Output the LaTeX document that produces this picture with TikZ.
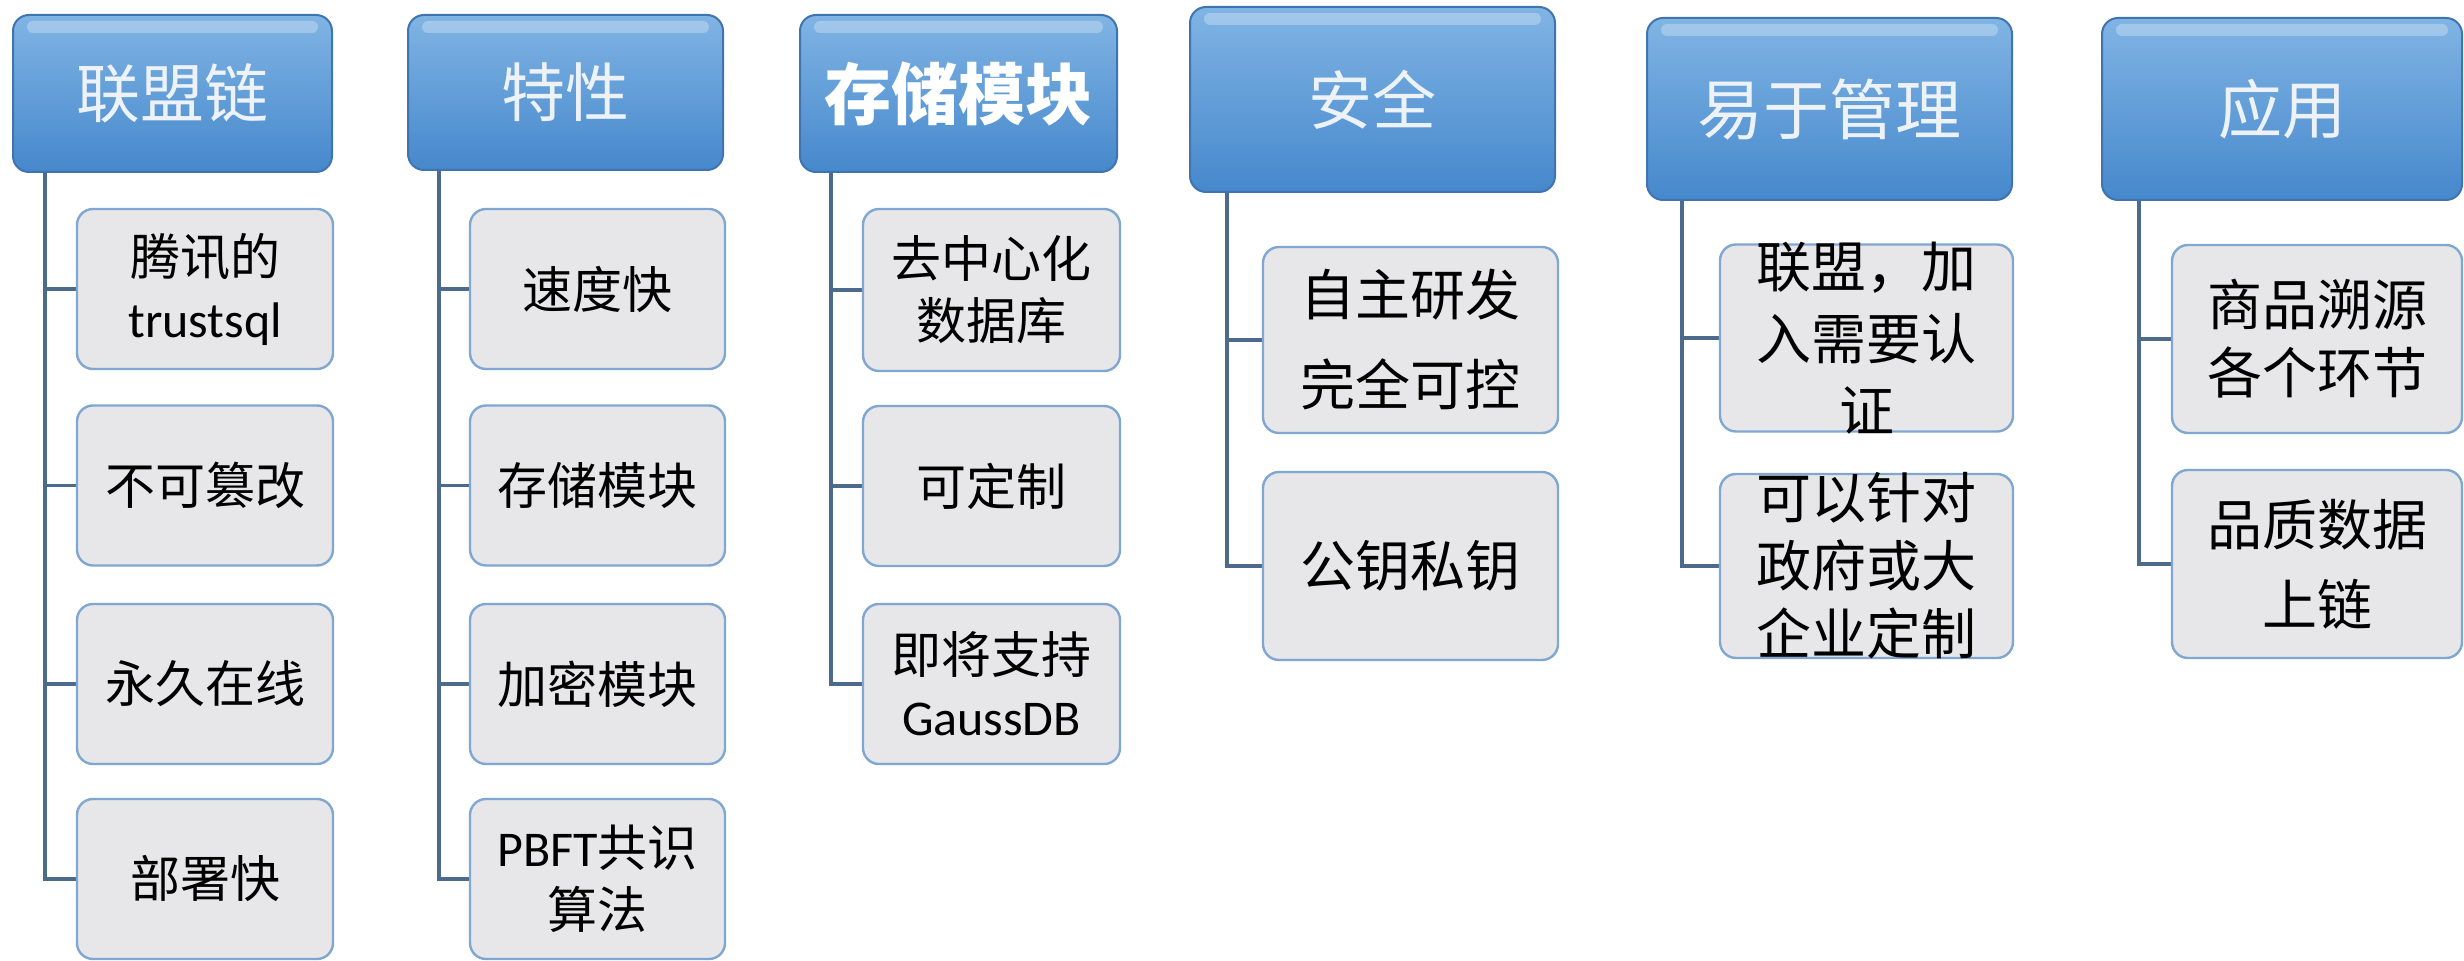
\documentclass[tikz,border=0pt]{standalone}
\usepackage{fontspec}
\setmainfont{Noto Sans CJK SC}
\newfontfamily\latin{Carlito}
\usetikzlibrary{backgrounds}

\definecolor{hdtop}{RGB}{128,180,228}
\definecolor{hdbot}{RGB}{70,136,204}
\definecolor{hdrim}{RGB}{64,116,176}
\definecolor{hdtext}{RGB}{236,242,248}
\definecolor{kidfill}{RGB}{231,231,233}
\definecolor{kidrim}{RGB}{128,166,210}
\definecolor{linkcol}{RGB}{76,106,140}

\tikzset{
  hdbox/.style={rectangle, rounded corners=8pt, draw=hdrim, line width=1pt,
    top color=hdtop, bottom color=hdbot, text=hdtext, inner sep=0pt,
    font=\fontsize{32}{38}\selectfont,
    path picture={\fill[white, opacity=0.28, rounded corners=3pt]
      ([xshift=7pt,yshift=-3pt]path picture bounding box.north west) rectangle
      ([xshift=-7pt,yshift=-9pt]path picture bounding box.north east);}},
  kidbox/.style={rectangle, rounded corners=8pt, draw=kidrim, line width=1.2pt,
    fill=kidfill, text=black, align=center, inner sep=0pt,
    font=\fontsize{25}{31}\selectfont},
  bigkid/.style={kidbox, font=\fontsize{27.5}{35}\selectfont},
  kidtext/.style={align=center, inner sep=0pt, text=black,
    font=\fontsize{27.5}{36}\selectfont},
  boxsize/.style 2 args={minimum width=#1, minimum height=#2},
  linkline/.style={draw=linkcol, line width=1.8pt}
}

\begin{document}
\begin{tikzpicture}[x=0.5pt, y=-0.5pt]
  \useasboundingbox (0,0) rectangle (2464,961);

  % LIANMENGLIAN
  \node[hdbox, boxsize={159.5pt}{78.5pt}] (hdA) at (172.5,93.5) {联盟链};
  \node[kidbox, boxsize={128pt}{80pt}] (cA1) at (205,289) {腾讯的\\{\latin trustsql}};
  \node[kidbox, boxsize={128pt}{80pt}] (cA2) at (205,485.5) {不可篡改};
  \node[kidbox, boxsize={128pt}{80pt}] (cA3) at (205,684) {永久在线};
  \node[kidbox, boxsize={128pt}{80pt}] (cA4) at (205,879) {部署快};
  \coordinate (tA) at ([xshift=16.5pt]hdA.south west);

  % TEXING
  \node[hdbox, boxsize={157.5pt}{77.5pt}] (hdB) at (565.5,92.5) {特性};
  \node[kidbox, boxsize={127.5pt}{80pt}] (cB1) at (597.5,289) {速度快};
  \node[kidbox, boxsize={127.5pt}{80pt}] (cB2) at (597.5,485.5) {存储模块};
  \node[kidbox, boxsize={127.5pt}{80pt}] (cB3) at (597.5,684) {加密模块};
  \node[kidbox, boxsize={127.5pt}{80pt}] (cB4) at (597.5,879) {{\latin PBFT}共识\\算法};
  \coordinate (tB) at ([xshift=16pt]hdB.south west);

  % CUNCHU
  \node[hdbox, boxsize={158.5pt}{78.5pt}, text=white,
    font=\fontsize{33.5}{38}\selectfont\bfseries] (hdC) at (958.5,93.5) {存储模块};
  \node[kidbox, boxsize={128.5pt}{81pt}] (cC1) at (991.5,290) {去中心化\\数据库};
  \node[kidbox, boxsize={128.5pt}{80pt}] (cC2) at (991.5,486) {可定制};
  \node[kidbox, boxsize={128.5pt}{80pt}] (cC3) at (991.5,684) {即将支持\\{\latin GaussDB}};
  \coordinate (tC) at ([xshift=16pt]hdC.south west);

  % ANQUAN
  \node[hdbox, boxsize={182.5pt}{92.5pt}] (hdD) at (1372.5,99.5) {安全};
  \node[bigkid, boxsize={147.5pt}{93pt}] (cD1) at (1410.5,340) {自主研发\\[10pt]完全可控};
  \node[bigkid, boxsize={147.5pt}{94pt}] (cD2) at (1410.5,566) {公钥私钥};
  \coordinate (tD) at ([xshift=19pt]hdD.south west);

  % GUANLI
  \node[hdbox, boxsize={182.5pt}{91pt}, font=\fontsize{33}{38}\selectfont] (hdE) at (1829.5,109) {易于管理};
  \node[bigkid, boxsize={146.5pt}{93.5pt}] (cE1) at (1866.5,338) {};
  \node[kidtext] (tE1) at (cE1) {联盟，加\\入需要认\\证};
  \node[bigkid, boxsize={146.5pt}{92pt}] (cE2) at (1866.5,566) {};
  \node[kidtext, font=\fontsize{27.5}{34}\selectfont] (tE2) at (cE2) {可以针对\\政府或大\\企业定制};
  \coordinate (tE) at ([xshift=18pt]hdE.south west);

  % YINGYONG
  \node[hdbox, boxsize={180pt}{91pt}] (hdF) at (2282,109) {应用};
  \node[bigkid, boxsize={145pt}{94pt}, font=\fontsize{27.5}{34}\selectfont] (cF1) at (2317,339) {商品溯源\\各个环节};
  \node[bigkid, boxsize={145pt}{94pt}, font=\fontsize{27.5}{40}\selectfont] (cF2) at (2317,564) {品质数据\\上链};
  \coordinate (tF) at ([xshift=19pt]hdF.south west);

  \begin{pgfonlayer}{background}
    \draw[linkline]
      (tA) |- (cA1.west) (tA) |- (cA2.west) (tA) |- (cA3.west) (tA) |- (cA4.west)
      (tB) |- (cB1.west) (tB) |- (cB2.west) (tB) |- (cB3.west) (tB) |- (cB4.west)
      (tC) |- (cC1.west) (tC) |- (cC2.west) (tC) |- (cC3.west)
      (tD) |- (cD1.west) (tD) |- (cD2.west)
      (tE) |- (cE1.west) (tE) |- (cE2.west)
      (tF) |- (cF1.west) (tF) |- (cF2.west);
  \end{pgfonlayer}
\end{tikzpicture}
\end{document}
